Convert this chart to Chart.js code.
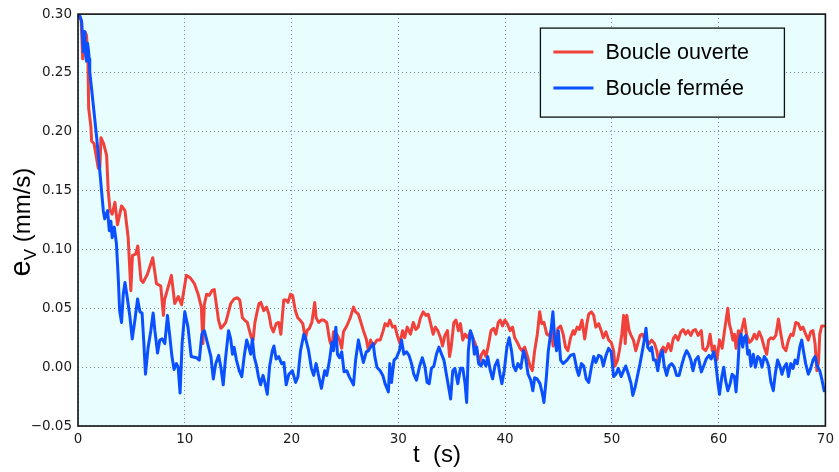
<!DOCTYPE html>
<html>
<head>
<meta charset="utf-8">
<script src="https://cdn.jsdelivr.net/npm/chart.js@4/dist/chart.umd.min.js"></script>
<style>
html,body{margin:0;padding:0;background:#fff;}
canvas{display:block;}
</style>
</head>
<body>
<canvas id="c" width="839" height="472"></canvas>
<script>
// ---- Data ----
const seriesNames = ["Boucle ouverte", "Boucle fermée"];
const xTicks = [0, 10, 20, 30, 40, 50, 60, 70];
const yTicks = [-0.05, 0.00, 0.05, 0.10, 0.15, 0.20, 0.25, 0.30];

const redT = [0,0.3,0.44,0.5,0.65,0.8,0.93,1.0,1.2,1.28,1.5,1.9,2.05,2.15,2.4,2.68,2.83,3.0,3.2,3.46,3.7,4.08,4.4,4.7,4.95,5.1,5.4,5.6,5.9,6.1,6.5,7.0,7.35,7.75,8.0,8.1,8.75,9.06,9.4,9.7,10.15,10.5,10.9,11.25,11.55,11.7,11.83,12.04,12.3,12.54,12.76,12.9,13.16,13.38,13.6,13.84,14.1,14.3,14.62,14.93,15.15,15.4,15.6,15.86,16.0,16.24,16.4,16.57,16.8,16.95,17.13,17.4,17.66,17.88,18.1,18.3,18.56,18.8,19.0,19.27,19.5,19.67,19.9,20.1,20.36,20.58,20.8,21.05,21.3,21.45,21.67,21.9,22.17,22.3,22.55,22.8,23.0,23.3,23.56,23.78,23.93,24.24,24.5,24.7,24.86,25.17,25.5,25.8,26.0,26.26,26.5,26.73,27.0,27.2,27.4,27.65,28.0,28.3,28.55,28.76,29.0,29.2,29.46,29.68,29.9,30.15,30.4,30.6,30.83,31.14,31.4,31.64,31.86,32.08,32.33,32.58,32.8,33.0,33.26,33.47,33.7,33.95,34.14,34.36,34.6,34.8,34.95,35.2,35.4,35.63,35.82,36.04,36.25,36.5,36.75,36.97,37.2,37.37,37.6,37.8,38.0,38.2,38.4,38.68,38.92,39.14,39.36,39.55,39.76,39.98,40.2,40.47,40.7,40.9,41.15,41.4,41.6,41.84,42.1,42.33,42.55,42.77,43.02,43.24,43.43,43.64,43.9,44.1,44.33,44.5,44.73,44.95,45.2,45.44,45.66,45.88,46.13,46.37,46.5,46.75,46.96,47.2,47.46,47.68,47.83,48.08,48.3,48.5,48.76,49.0,49.2,49.45,49.7,49.94,50.16,50.3,50.53,50.7,50.93,51.1,51.25,51.4,51.62,51.8,52.02,52.24,52.43,52.64,52.86,53.05,53.27,53.48,53.73,54.0,54.2,54.4,54.6,54.82,55.03,55.28,55.53,55.74,55.96,56.2,56.46,56.68,56.9,57.14,57.4,57.6,57.83,58.08,58.38,58.53,58.78,59.0,59.2,59.4,59.6,59.83,60.08,60.33,60.55,60.7,60.86,61.0,61.17,61.33,61.48,61.63,61.85,62.04,62.25,62.4,62.63,62.88,63.12,63.34,63.56,63.8,64.03,64.27,64.5,64.68,64.9,65.12,65.36,65.6,65.83,66.05,66.3,66.54,66.76,66.97,67.22,67.47,67.68,67.9,68.15,68.4,68.62,68.84,69.03,69.2,69.35,69.47,69.66,69.85];
const redV = [0.300,0.295,0.262,0.270,0.285,0.282,0.260,0.220,0.205,0.192,0.190,0.169,0.170,0.195,0.190,0.180,0.150,0.133,0.130,0.140,0.121,0.137,0.133,0.110,0.065,0.095,0.096,0.103,0.074,0.072,0.079,0.093,0.071,0.069,0.044,0.057,0.078,0.054,0.060,0.053,0.078,0.076,0.071,0.062,0.051,0.020,0.053,0.062,0.061,0.065,0.066,0.057,0.040,0.033,0.035,0.038,0.047,0.054,0.058,0.059,0.057,0.042,0.040,0.038,0.033,0.025,0.023,0.038,0.048,0.054,0.055,0.048,0.051,0.045,0.034,0.030,0.037,0.038,0.028,0.057,0.057,0.055,0.062,0.061,0.048,0.042,0.040,0.037,0.024,0.031,0.033,0.038,0.055,0.042,0.038,0.040,0.040,0.038,0.023,0.017,0.030,0.028,0.023,0.016,0.030,0.035,0.042,0.051,0.047,0.045,0.038,0.031,0.024,0.014,0.023,0.018,0.023,0.023,0.030,0.037,0.035,0.040,0.034,0.035,0.027,0.020,0.031,0.025,0.034,0.028,0.038,0.032,0.034,0.042,0.047,0.044,0.045,0.038,0.028,0.034,0.031,0.025,0.018,0.027,0.031,0.009,0.017,0.038,0.040,0.031,0.037,0.023,0.028,0.025,0.030,0.025,0.020,0.014,0.004,0.011,0.014,0.009,0.017,0.031,0.033,0.028,0.038,0.040,0.035,0.040,0.037,0.031,0.034,0.025,0.021,0.016,0.014,0.017,0.009,0.001,-0.003,0.014,0.028,0.047,0.037,0.038,0.028,0.027,0.031,0.018,0.023,0.033,0.035,0.028,0.017,0.014,0.025,0.031,0.028,0.034,0.032,0.040,0.024,0.038,0.045,0.047,0.044,0.034,0.037,0.031,0.025,0.030,0.023,0.021,0.014,0.001,0.006,0.014,0.028,0.044,0.020,0.044,0.031,0.027,0.023,0.014,0.020,0.027,0.028,0.024,0.023,0.020,0.023,0.020,0.014,0.004,0.014,0.017,0.013,0.020,0.014,0.024,0.027,0.023,0.030,0.032,0.028,0.031,0.027,0.031,0.032,0.027,0.031,0.016,0.014,0.018,0.028,0.014,0.018,0.006,0.023,0.016,0.031,0.040,0.050,0.037,0.031,0.023,0.028,0.016,0.031,0.027,0.035,0.041,0.027,0.021,0.023,0.028,0.024,0.030,0.025,0.017,0.011,0.023,0.025,0.024,0.027,0.041,0.028,0.017,0.014,0.023,0.028,0.027,0.038,0.037,0.032,0.034,0.028,0.023,0.030,0.031,0.020,-0.003,0.004,0.028,0.035,0.035];

const blueT = [0,0.2,0.35,0.5,0.58,0.65,0.72,0.8,0.9,0.97,1.05,1.1,1.43,1.75,2.05,2.37,2.5,2.77,2.93,3.08,3.2,3.4,3.6,3.77,3.9,4.08,4.24,4.4,4.6,4.86,5.08,5.33,5.58,5.8,6.0,6.17,6.32,6.57,6.82,7.04,7.2,7.45,7.66,7.88,8.13,8.38,8.6,8.8,9.0,9.22,9.38,9.56,9.75,10.0,10.3,10.6,11.1,11.36,11.6,11.83,12.14,12.45,12.67,12.9,13.17,13.38,13.6,13.8,14.1,14.3,14.47,14.62,14.84,15.1,15.34,15.56,15.8,16.0,16.17,16.33,16.5,16.7,16.9,17.1,17.33,17.5,17.73,17.95,18.2,18.35,18.56,18.8,19.07,19.28,19.5,19.75,20.07,20.38,20.6,20.84,21.15,21.3,21.6,21.86,22.07,22.3,22.55,22.8,23.1,23.3,23.56,23.78,23.93,24.15,24.3,24.5,24.7,24.92,25.17,25.4,25.8,26.0,26.26,26.5,26.73,27.0,27.2,27.4,27.65,27.8,28.0,28.3,28.55,28.76,29.07,29.2,29.36,29.6,29.83,30.1,30.3,30.52,30.77,31.0,31.24,31.45,31.7,32.0,32.25,32.5,32.7,32.9,33.1,33.33,33.57,33.8,34.05,34.27,34.5,34.77,34.9,35.1,35.3,35.57,35.82,36.04,36.25,36.4,36.56,36.75,36.97,37.12,37.34,37.52,37.74,37.96,38.2,38.37,38.62,38.83,39.05,39.3,39.52,39.7,39.92,40.17,40.38,40.6,40.78,41.0,41.2,41.47,41.72,41.94,42.15,42.4,42.6,42.77,43.0,43.27,43.5,43.64,43.86,44.05,44.26,44.48,44.64,44.82,44.98,45.2,45.44,45.8,46.13,46.44,46.75,46.9,47.15,47.37,47.6,47.83,48.08,48.3,48.5,48.76,49.0,49.2,49.45,49.7,49.94,50.16,50.38,50.6,50.87,51.1,51.3,51.55,51.8,51.96,52.18,52.43,52.64,52.86,53.05,53.2,53.36,53.58,53.73,53.9,54.1,54.3,54.5,54.73,54.9,55.13,55.35,55.6,55.84,56.06,56.3,56.52,56.77,57.0,57.2,57.4,57.6,57.83,58.08,58.38,58.6,58.84,59.1,59.3,59.53,59.7,59.93,60.08,60.3,60.48,60.64,60.86,61.08,61.26,61.48,61.63,61.8,61.94,62.1,62.25,62.4,62.56,62.72,62.88,63.03,63.25,63.44,63.66,63.88,64.06,64.27,64.5,64.68,64.9,65.12,65.3,65.52,65.74,65.93,66.14,66.36,66.54,66.76,66.97,67.16,67.37,67.6,67.78,67.94,68.15,68.4,68.62,68.84,69.03,69.24,69.47,69.66,69.88];
const blueV = [0.300,0.298,0.293,0.268,0.285,0.279,0.265,0.260,0.275,0.270,0.262,0.251,0.223,0.195,0.166,0.133,0.126,0.133,0.116,0.124,0.110,0.119,0.105,0.076,0.048,0.038,0.062,0.072,0.060,0.043,0.024,0.040,0.058,0.047,0.046,0.020,-0.006,0.017,0.031,0.046,0.031,0.012,0.023,0.024,0.020,0.044,0.026,0.009,-0.002,0.003,0.000,-0.022,0.020,0.047,0.034,0.009,0.008,0.006,0.028,0.031,0.020,0.009,-0.010,0.003,0.010,0.000,-0.015,0.006,0.031,0.024,0.011,0.017,0.006,-0.003,-0.008,0.009,0.023,0.017,0.011,0.024,0.009,0.002,-0.008,-0.015,-0.007,-0.013,-0.023,0.001,0.014,0.018,0.007,0.009,0.003,0.004,-0.015,-0.006,-0.003,-0.013,-0.008,0.014,0.028,0.025,0.014,-0.001,-0.007,0.003,-0.008,-0.018,-0.003,-0.007,0.006,0.021,0.014,0.034,0.011,0.008,0.013,-0.004,-0.003,-0.008,-0.015,0.006,0.023,0.013,0.004,0.013,0.014,0.017,0.020,0.009,0.000,-0.003,-0.007,-0.014,-0.021,0.003,-0.013,0.006,0.008,0.014,0.023,0.011,0.013,0.010,0.003,-0.006,-0.011,0.001,0.008,0.000,-0.013,-0.014,-0.001,0.001,0.011,0.017,0.011,0.006,-0.006,-0.020,-0.027,-0.003,-0.001,-0.014,-0.001,-0.001,-0.014,-0.030,0.014,0.031,0.025,0.011,0.017,0.003,0.001,0.006,0.001,0.009,-0.003,-0.010,0.001,0.006,-0.006,-0.014,-0.003,0.017,0.025,0.014,0.001,-0.003,0.003,-0.001,0.014,0.007,-0.006,-0.011,-0.020,-0.009,-0.010,-0.014,-0.023,-0.030,-0.009,0.014,0.028,0.047,0.025,0.014,0.031,0.006,0.003,0.006,0.010,0.011,-0.003,-0.007,0.003,0.001,-0.010,-0.013,0.000,0.009,0.004,0.010,0.009,0.001,0.010,0.016,0.013,-0.008,-0.006,-0.001,-0.008,-0.003,0.001,-0.006,-0.014,-0.024,-0.017,-0.006,0.003,0.014,0.024,0.033,0.017,0.014,0.017,0.006,0.006,-0.003,0.009,0.014,0.001,-0.007,0.001,0.003,0.000,-0.007,-0.007,0.001,0.009,0.014,0.011,0.006,-0.003,0.006,0.009,-0.004,0.001,0.007,0.010,0.007,0.013,0.006,-0.013,-0.023,-0.008,0.000,-0.011,-0.020,-0.014,-0.006,-0.008,-0.021,0.000,0.023,0.028,0.017,0.025,0.027,0.011,0.014,0.001,0.011,0.000,0.009,0.007,0.000,0.009,0.006,0.001,-0.013,-0.020,-0.006,0.006,0.001,-0.006,0.000,0.003,-0.008,0.003,-0.001,0.006,0.003,0.017,0.023,0.014,0.003,-0.006,-0.001,0.006,0.009,0.001,-0.003,-0.010,-0.020];

// ---- Styles ----
const RED = '#f2403a';
const BLUE = '#0a50ff';
const PLOT_BG = '#e7fdfe';
const GRID = 'rgba(95,115,160,0.85)';

function toXY(ts, vs){ return ts.map((t,i)=>({x:t, y:vs[i]})); }

const bgPlugin = {
  id:'plotBg',
  beforeDraw(chart){
    const {ctx, chartArea:a} = chart;
    ctx.save();
    ctx.fillStyle = '#ffffff';
    ctx.fillRect(0,0,chart.width,chart.height);
    ctx.fillStyle = PLOT_BG;
    ctx.fillRect(a.left, a.top, a.right-a.left, a.bottom-a.top);
    ctx.restore();
  },
  afterDatasetsDraw(chart){
    const {ctx, chartArea:a} = chart;
    ctx.save();
    // frame
    ctx.strokeStyle = '#111';
    ctx.lineWidth = 1.6;
    ctx.strokeRect(a.left, a.top, a.right-a.left, a.bottom-a.top);
    // legend box
    const lx = a.right - 285, ly = a.top + 14, lw = 244, lh = 89;
    ctx.fillStyle = PLOT_BG;
    ctx.fillRect(lx, ly, lw, lh);
    ctx.lineWidth = 1.3;
    ctx.strokeStyle = '#111';
    ctx.strokeRect(lx, ly, lw, lh);
    const cols = [RED, BLUE];
    const rows = [ly+24, ly+60];
    ctx.font = '21.5px "Liberation Sans", Arial, sans-serif';
    ctx.textBaseline = 'middle';
    ctx.textAlign = 'left';
    for(let i=0;i<2;i++){
      ctx.strokeStyle = cols[i];
      ctx.lineWidth = 3;
      ctx.beginPath();
      ctx.moveTo(lx+13, rows[i]);
      ctx.lineTo(lx+53, rows[i]);
      ctx.stroke();
      ctx.fillStyle = '#000';
      ctx.fillText(seriesNames[i], lx+65, rows[i]+1);
    }
    // x-axis title
    ctx.font = '24px "Liberation Sans", Arial, sans-serif';
    ctx.textBaseline = 'alphabetic';
    ctx.textAlign = 'left';
    ctx.fillStyle = '#000';
    ctx.fillText('t  (s)', a.left + 335, 462);
    // y-axis title (rotated, with subscript)
    ctx.translate(30, (a.top+a.bottom)/2 + 2);
    ctx.rotate(-Math.PI/2);
    const f1 = '29px "Liberation Sans", Arial, sans-serif';
    const f2 = '17px "Liberation Sans", Arial, sans-serif';
    const f3 = '24px "Liberation Sans", Arial, sans-serif';
    ctx.font = f1; const w1 = ctx.measureText('e').width;
    ctx.font = f2; const w2 = ctx.measureText('V').width;
    ctx.font = f3; const w3 = ctx.measureText(' (mm/s)').width;
    let x0 = -(w1+w2+w3)/2;
    ctx.font = f1; ctx.fillText('e', x0, 0);
    ctx.font = f2; ctx.fillText('V', x0+w1, 6);
    ctx.font = f3; ctx.fillText(' (mm/s)', x0+w1+w2, 0);
    ctx.restore();
  }
};

new Chart(document.getElementById('c'), {
  type:'line',
  data:{
    datasets:[
      {label:seriesNames[0], data:toXY(redT, redV), borderColor:RED, borderWidth:3, pointRadius:0, tension:0, order:2, borderJoinStyle:'round', borderCapStyle:'round'},
      {label:seriesNames[1], data:toXY(blueT, blueV), borderColor:BLUE, borderWidth:3, pointRadius:0, tension:0, order:1, borderJoinStyle:'round', borderCapStyle:'round'}
    ]
  },
  plugins:[bgPlugin],
  options:{
    responsive:false,
    devicePixelRatio:1,
    animation:false,
    layout:{padding:{top:13, right:9, left:0, bottom:0}},
    plugins:{legend:{display:false}, tooltip:{enabled:false}},
    scales:{
      x:{
        type:'linear', min:0, max:70,
        afterBuildTicks(s){ s.ticks = xTicks.map(v=>({value:v})); },
        afterFit(s){ s.height = 46; },
        grid:{color:GRID, lineWidth:1, drawTicks:false},
        border:{display:false, dash:[1,3]},
        ticks:{padding:5, color:'#1a1a1a', font:{family:'"DejaVu Sans"', size:13.5}, maxRotation:0, callback:(v)=>String(v)}
      },
      y:{
        type:'linear', min:-0.05, max:0.30,
        afterBuildTicks(s){ s.ticks = yTicks.map(v=>({value:v})); },
        afterFit(s){ s.width = 78; },
        grid:{color:GRID, lineWidth:1, drawTicks:false},
        border:{display:false, dash:[1,3]},
        ticks:{padding:6, color:'#1a1a1a', font:{family:'"DejaVu Sans"', size:13.5},
          callback:(v)=>{ let x = Math.abs(v)<1e-9?0:v; return x.toFixed(2).replace('-', '\u2212'); }}
      }
    }
  }
});
</script>
</body>
</html>
